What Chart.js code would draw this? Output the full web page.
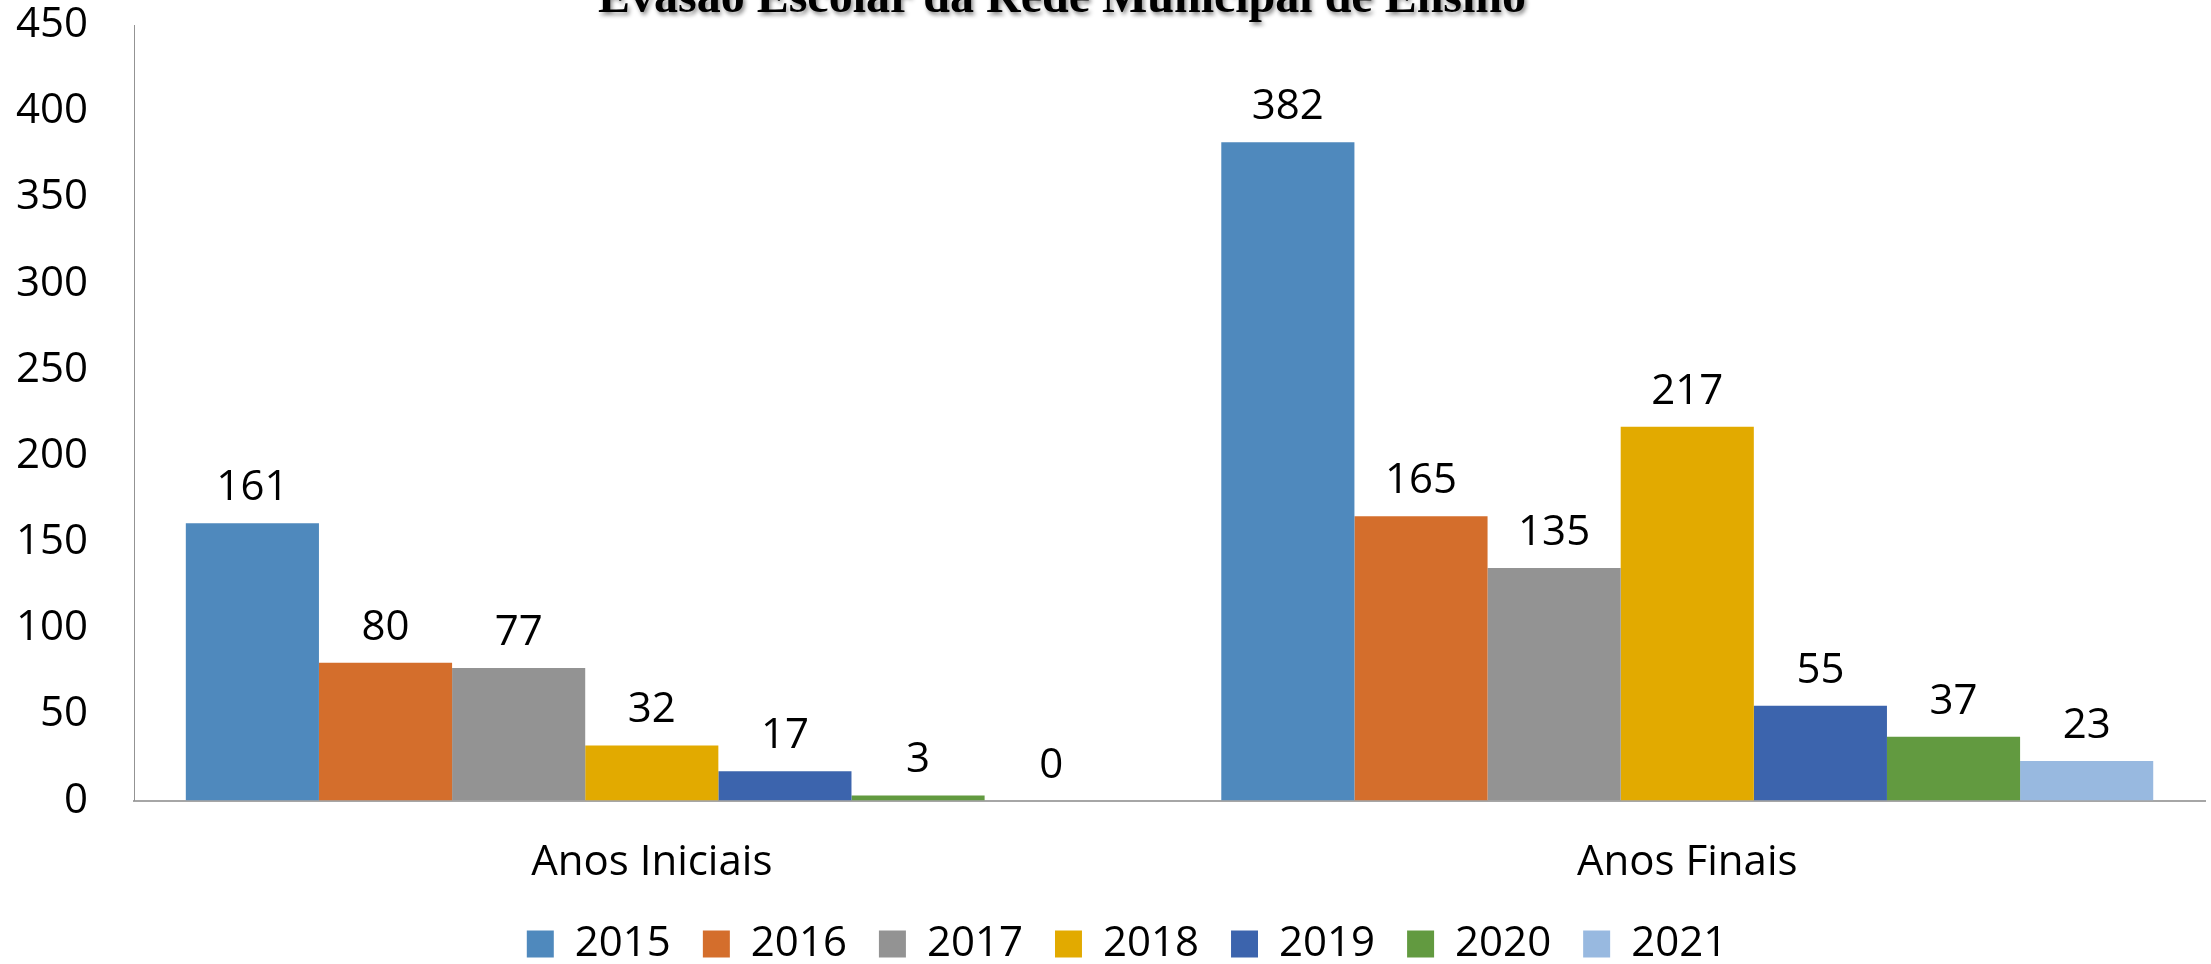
<!DOCTYPE html>
<html lang="pt">
<head>
<meta charset="utf-8">
<title>Evasão Escolar da Rede Municipal de Ensino</title>
<script src="https://cdn.jsdelivr.net/npm/chart.js@4.4.1/dist/chart.umd.min.js"></script>
<style>
  html, body { margin: 0; padding: 0; background: #ffffff; }
  #wrap { width: 2211px; height: 964px; position: relative; }
</style>
</head>
<body>
<div id="wrap"><canvas id="evasaoChart"></canvas></div>
<script>
// Dados
const chartTitle = 'Evasão Escolar da Rede Municipal de Ensino';
const categories = ['Anos Iniciais', 'Anos Finais'];
const years = ['2015', '2016', '2017', '2018', '2019', '2020', '2021'];

const values2015 = [161, 382];
const values2016 = [80, 165];
const values2017 = [77, 135];
const values2018 = [32, 217];
const values2019 = [17, 55];
const values2020 = [3, 37];
const values2021 = [0, 23];

const yTicks = [0, 50, 100, 150, 200, 250, 300, 350, 400, 450];

const seriesValues = [values2015, values2016, values2017, values2018, values2019, values2020, values2021];
const seriesColors = ['#4F89BD', '#D46E2C', '#939393', '#E2AA00', '#3C64AD', '#629A40', '#98B9E0'];

Chart.defaults.font.family = "'Open Sans', sans-serif";
Chart.defaults.color = '#000000';

// rótulos de valor acima de cada barra
const barValueLabels = {
    id: 'barValueLabels',
    afterDatasetsDraw(chart) {
        const ctx = chart.ctx;
        ctx.save();
        ctx.font = "42px 'Open Sans'";
        ctx.fillStyle = '#000000';
        ctx.textAlign = 'center';
        ctx.textBaseline = 'alphabetic';
        chart.data.datasets.forEach((ds, i) => {
            chart.getDatasetMeta(i).data.forEach((bar, j) => {
                ctx.fillText(String(ds.data[j]), bar.x, bar.y - 23);
            });
        });
        ctx.restore();
    }
};

// título com sombra, cortado no topo como no original
const shadowTitle = {
    id: 'shadowTitle',
    afterDraw(chart) {
        const ctx = chart.ctx;
        ctx.save();
        ctx.font = "bold 48px 'Liberation Serif'";
        ctx.fillStyle = '#000000';
        ctx.shadowColor = 'rgba(0, 0, 0, 0.45)';
        ctx.shadowOffsetX = 2;
        ctx.shadowOffsetY = 3;
        ctx.shadowBlur = 4;
        ctx.textAlign = 'center';
        ctx.textBaseline = 'alphabetic';
        ctx.fillText(chartTitle, 1062, 12);
        ctx.restore();
    }
};

// a legenda do original fica um pouco à direita do centro
const legendNudge = {
    id: 'legendNudge',
    afterLayout(chart) {
        chart.legend.left += 27;
    }
};

const ctx = document.getElementById('evasaoChart').getContext('2d');

new Chart(ctx, {
    type: 'bar',
    data: {
        labels: categories,
        datasets: years.map((year, i) => ({
            label: year,
            data: seriesValues[i],
            backgroundColor: seriesColors[i],
            borderWidth: 0,
            categoryPercentage: 0.9,
            barPercentage: 1.0
        }))
    },
    options: {
        responsive: true,
        maintainAspectRatio: false,
        animation: false,
        layout: { padding: { left: 16, top: 2, right: 0, bottom: -11 } },
        plugins: {
            title: { display: false },
            tooltip: { enabled: false },
            legend: {
                position: 'bottom',
                labels: {
                    boxWidth: 27,
                    boxHeight: 27,
                    padding: 32,
                    color: '#000000',
                    font: { size: 42 }
                }
            }
        },
        scales: {
            x: {
                grid: { display: false, drawTicks: true, tickLength: 37 },
                border: { display: true, color: '#A6A6A6', width: 2 },
                ticks: { padding: 0, font: { size: 42 }, color: '#000000' },
                afterFit(axis) {
                    // os rótulos cabem dentro das categorias
                    axis.paddingLeft = 0;
                    axis.paddingRight = 6;
                    axis.height += 3;
                }
            },
            y: {
                min: 0,
                max: 450,
                afterBuildTicks(axis) {
                    axis.ticks = yTicks.map(v => ({ value: v }));
                },
                grid: { display: false, drawTicks: true, tickLength: 46 },
                border: { display: true, color: '#939393', width: 1 },
                ticks: { padding: 0, font: { size: 42 }, color: '#000000' }
            }
        }
    },
    plugins: [barValueLabels, shadowTitle, legendNudge]
});
</script>
</body>
</html>
